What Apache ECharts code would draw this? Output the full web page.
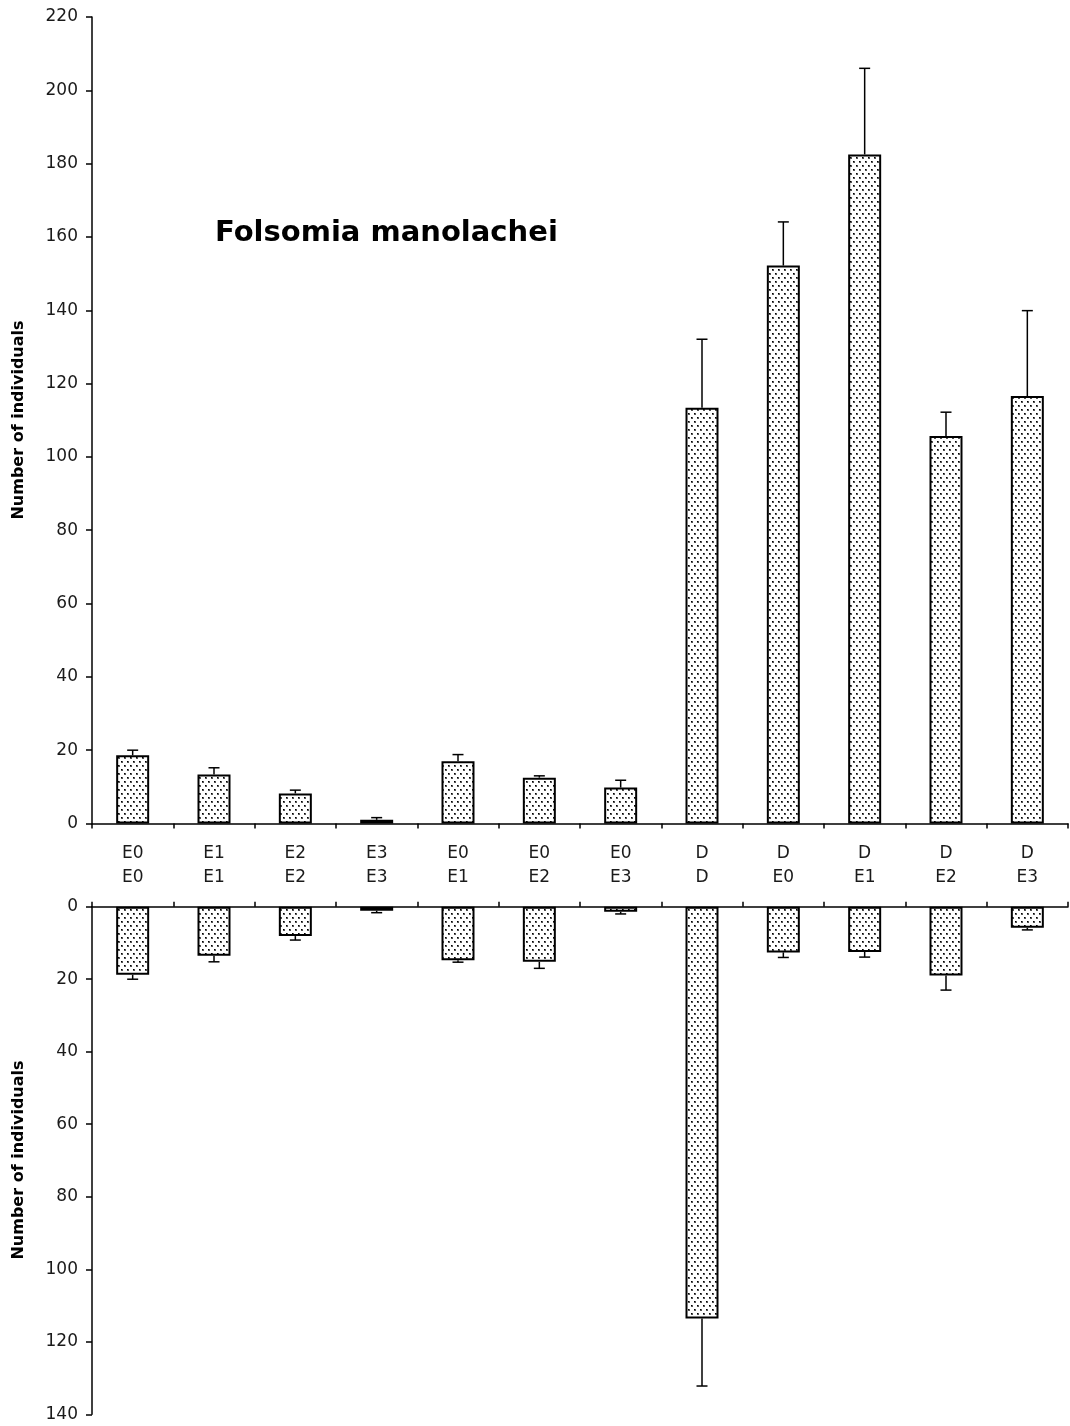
<!DOCTYPE html>
<html>
<head>
<meta charset="utf-8">
<script src="https://cdn.jsdelivr.net/npm/echarts@6/dist/echarts.min.js"></script>
<style>html,body{margin:0;padding:0;background:#fff}#c{width:1070px;height:1426px}</style>
</head>
<body>
<div id="c"></div>
<script>
// ---- data ----
const labelRow1 = ['E0','E1','E2','E3','E0','E0','E0','D','D','D','D','D'];
const labelRow2 = ['E0','E1','E2','E3','E1','E2','E3','D','E0','E1','E2','E3'];
const topMeans = [18.6, 13.4, 8.2, 1.0, 17.0, 12.5, 9.8, 113.4, 152.2, 182.5, 105.7, 116.6];
const topErrors = [1.4, 1.8, 0.9, 0.6, 1.8, 0.5, 2.0, 18.7, 11.9, 23.5, 6.5, 23.3];
const bottomMeans = [18.8, 13.5, 8.1, 1.1, 14.8, 15.2, 1.4, 113.6, 12.6, 12.5, 19.0, 5.8];
const bottomErrors = [1.2, 1.7, 1.1, 0.55, 0.5, 1.8, 0.6, 18.6, 1.4, 1.4, 4.0, 0.6];
const titleText = 'Folsomia manolachei';
const yName = 'Number of individuals';

const categories = labelRow1.map((a, i) => a + '\n' + labelRow2[i]);

// stipple pattern
const pc = document.createElement('canvas');
pc.width = 6; pc.height = 8;
const pctx = pc.getContext('2d');
pctx.fillStyle = '#fff'; pctx.fillRect(0, 0, 6, 8);
pctx.fillStyle = '#555';
pctx.fillRect(1, 1, 2, 2);
pctx.fillRect(4, 5, 2, 2);
pctx.fillStyle = '#000';
pctx.fillRect(1, 1, 1, 1);
pctx.fillRect(4, 5, 1, 1);
const pattern = { image: pc, repeat: 'repeat' };

const FONT = 'DejaVu Sans';
const axisLineStyle = { color: '#000', width: 1.5 };

function errRender(params, api) {
  const x = api.value(0), m = api.value(1), e = api.value(2);
  const p0 = api.coord([x, m]);
  const p1 = api.coord([x, m + e]);
  const hw = 5.5;
  const st = { stroke: '#000', lineWidth: 1.5 };
  return { type: 'group', children: [
    { type: 'line', shape: { x1: p0[0], y1: p0[1], x2: p1[0], y2: p1[1] }, style: st },
    { type: 'line', shape: { x1: p1[0] - hw, y1: p1[1], x2: p1[0] + hw, y2: p1[1] }, style: st }
  ]};
}

const labelStyle = { fontSize: 17, fontFamily: FONT, fontWeight: 'normal', color: '#1a1a1a' };

const chart = echarts.init(document.getElementById('c'), null, { renderer: 'canvas' });
chart.setOption({
  backgroundColor: '#fff',
  animation: false,
  grid: [
    { left: 92, right: 2, top: 17, height: 806.5 },
    { left: 92, right: 2, top: 906.7, height: 507.6 }
  ],
  xAxis: [
    { gridIndex: 0, type: 'category', data: categories, position: 'bottom',
      axisLine: { lineStyle: axisLineStyle },
      axisTick: { show: true, length: 5, lineStyle: { color: '#000', width: 1.5 } },
      axisLabel: Object.assign({ margin: 18, lineHeight: 24, interval: 0 }, labelStyle) },
    { gridIndex: 1, type: 'category', data: categories, position: 'top',
      axisLine: { lineStyle: axisLineStyle },
      axisTick: { show: true, length: 5, lineStyle: { color: '#000', width: 1.5 } },
      axisLabel: { show: false } }
  ],
  yAxis: [
    { gridIndex: 0, type: 'value', min: 0, max: 220, interval: 20,
      axisLine: { show: true, lineStyle: axisLineStyle },
      axisTick: { show: true, length: 6, lineStyle: { color: '#000', width: 1.5 } },
      splitLine: { show: false },
      axisLabel: Object.assign({ margin: 14 }, labelStyle) },
    { gridIndex: 1, type: 'value', min: 0, max: 140, interval: 20, inverse: true,
      axisLine: { show: true, lineStyle: axisLineStyle },
      axisTick: { show: true, length: 6, lineStyle: { color: '#000', width: 1.5 } },
      splitLine: { show: false },
      axisLabel: Object.assign({ margin: 14 }, labelStyle) }
  ],
  graphic: [
    { type: 'text', x: 215, y: 233, style: { text: titleText, font: 'bold 29px "DejaVu Sans"', fill: '#000', textAlign: 'left', textVerticalAlign: 'middle' } },
    { type: 'text', x: 18.5, y: 420, rotation: Math.PI / 2, style: { text: yName, font: 'bold 16px "DejaVu Sans"', fill: '#000', textAlign: 'center', textVerticalAlign: 'middle' } },
    { type: 'text', x: 18.5, y: 1160, rotation: Math.PI / 2, style: { text: yName, font: 'bold 16px "DejaVu Sans"', fill: '#000', textAlign: 'center', textVerticalAlign: 'middle' } }
  ],
  series: [
    { type: 'bar', xAxisIndex: 0, yAxisIndex: 0, data: topMeans, barWidth: 33,
      itemStyle: { color: pattern, borderColor: '#000', borderWidth: 2 } },
    { type: 'custom', xAxisIndex: 0, yAxisIndex: 0, renderItem: errRender, z: 3,
      data: topMeans.map((m, i) => [i, m, topErrors[i]]) },
    { type: 'bar', xAxisIndex: 1, yAxisIndex: 1, data: bottomMeans, barWidth: 33,
      itemStyle: { color: pattern, borderColor: '#000', borderWidth: 2 } },
    { type: 'custom', xAxisIndex: 1, yAxisIndex: 1, renderItem: errRender, z: 3,
      data: bottomMeans.map((m, i) => [i, m, bottomErrors[i]]) }
  ]
});
</script>
</body>
</html>
